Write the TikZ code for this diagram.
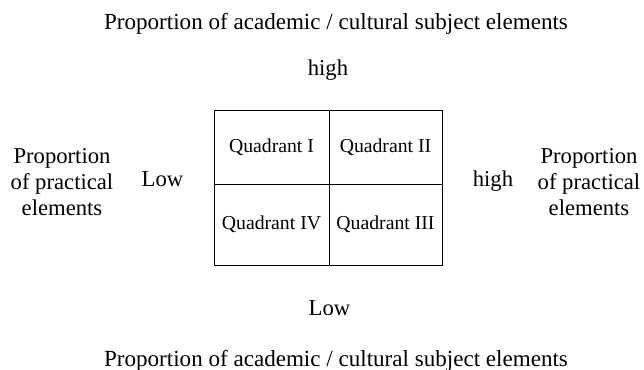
\documentclass[tikz,border=0pt]{standalone}
\usepackage{fontspec}
\setmainfont{Liberation Serif}
\usetikzlibrary{positioning}

\begin{document}
\begin{tikzpicture}[
  x=0.75pt, y=-0.75pt,
  every node/.style={font=\fontsize{17}{19.5}\selectfont, inner sep=0pt},
  cell/.style={draw, line width=0.6pt, font=\fontsize{14.8}{17}\selectfont,
    minimum width=86.25pt, minimum height=55.5pt, outer sep=0pt},
  side/.style={align=center},
  axis/.style={anchor=base},
  title/.style={anchor=base, font=\fontsize{17.3}{20}\selectfont},
]
\useasboundingbox (0,0) rectangle (644,370);
% Quadrants
\node[cell] (qone) at (271.5,147) {Quadrant I};
\node[cell, right=0pt of qone, minimum width=84.75pt] (qtwo) {Quadrant II};
\node[cell, below=0pt of qone, minimum height=60.75pt] (qfour) {Quadrant IV};
\node[cell, below=0pt of qtwo, minimum width=84.75pt,
  minimum height=60.75pt] (qthree) {Quadrant III};
% Vertical axis
\node[axis] (tophigh) at (328,76) {high};
\node[axis] (botlow) at (329.5,316) {Low};
\node[title] (toptitle) at (336,30) {Proportion of academic / cultural subject elements};
\node[title] (bottitle) at (336,367) {Proportion of academic / cultural subject elements};
% Horizontal axis
\node[axis] (leftlow) at (162.5,187) {Low};
\node[axis] (righthigh) at (493,187) {high};
\node[side] (lefttitle) at (62,182) {Proportion\\of practical\\elements};
\node[side] (righttitle) at (589,182) {Proportion\\of practical\\elements};
\end{tikzpicture}
\end{document}
